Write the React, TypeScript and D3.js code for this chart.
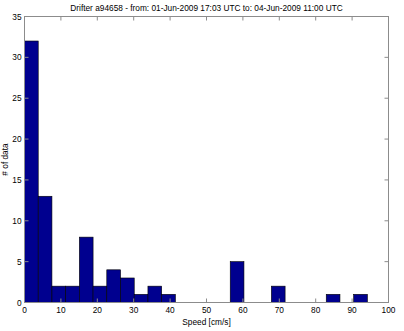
import React from "react";
import * as d3 from "d3";

const title = "Drifter a94658 - from: 01-Jun-2009 17:03 UTC to: 04-Jun-2009 11:00 UTC";
const xLabel = "Speed [cm/s]";
const yLabel = "# of data";
const binMin = 0;
const binMax = 94.2;
const binCounts = [32, 13, 2, 2, 8, 2, 4, 3, 1, 2, 1, 0, 0, 0, 0, 5, 0, 0, 2, 0, 0, 0, 1, 0, 1];
const xTicks = [0, 10, 20, 30, 40, 50, 60, 70, 80, 90, 100];
const yTicks = [0, 5, 10, 15, 20, 25, 30, 35];

const W = 404;
const H = 331;
const M = { left: 24.5, right: 15.5, top: 16.5, bottom: 28.5 };

export default function App() {
  const x = d3.scaleLinear().domain([0, 100]).range([M.left, W - M.right]);
  const y = d3.scaleLinear().domain([0, 35]).range([H - M.bottom, M.top]);
  const bw = (binMax - binMin) / binCounts.length;
  const font = "Liberation Sans, Arial, sans-serif";
  const tl = 4;
  const axisColor = "#8c8c8c";
  return (
    <svg width={W} height={H} style={{ position: "absolute", left: 0, top: 0 }} fontFamily={font}>
      <rect x={0} y={0} width={W} height={H} fill="#fff" />
      <text x={(x(0) + x(100)) / 2} y={10.5} fontSize={8.3} textAnchor="middle" fill="#000">{title}</text>
      {binCounts.map((c, i) =>
        c > 0 ? (
          <rect key={i} x={x(binMin + i * bw)} y={y(c)} width={x(binMin + (i + 1) * bw) - x(binMin + i * bw)} height={y(0) - y(c)}
            fill="#00008f" stroke="#000" strokeWidth={0.6} />
        ) : null
      )}
      <rect x={x(0)} y={y(35)} width={x(100) - x(0)} height={y(0) - y(35)} fill="none" stroke={axisColor} strokeWidth={1} />
      {xTicks.map((t) => (
        <g key={"x" + t}>
          <line x1={x(t)} x2={x(t)} y1={y(0)} y2={y(0) - tl} stroke={axisColor} />
          <line x1={x(t)} x2={x(t)} y1={y(35)} y2={y(35) + tl} stroke={axisColor} />
          <text x={x(t)} y={y(0) + 10} fontSize={8.3} textAnchor="middle" fill="#000">{t}</text>
        </g>
      ))}
      {yTicks.map((t) => (
        <g key={"y" + t}>
          <line x1={x(0)} x2={x(0) + tl} y1={y(t)} y2={y(t)} stroke={axisColor} />
          <line x1={x(100)} x2={x(100) - tl} y1={y(t)} y2={y(t)} stroke={axisColor} />
          <text x={x(0) - 3} y={y(t) + 3} fontSize={8.3} textAnchor="end" fill="#000">{t}</text>
        </g>
      ))}
      <text x={(x(0) + x(100)) / 2} y={H - 6} fontSize={8.3} textAnchor="middle" fill="#000">{xLabel}</text>
      <text transform={`translate(8,${(y(0) + y(35)) / 2}) rotate(-90)`} fontSize={8.3} textAnchor="middle" fill="#000">{yLabel}</text>
    </svg>
  );
}
